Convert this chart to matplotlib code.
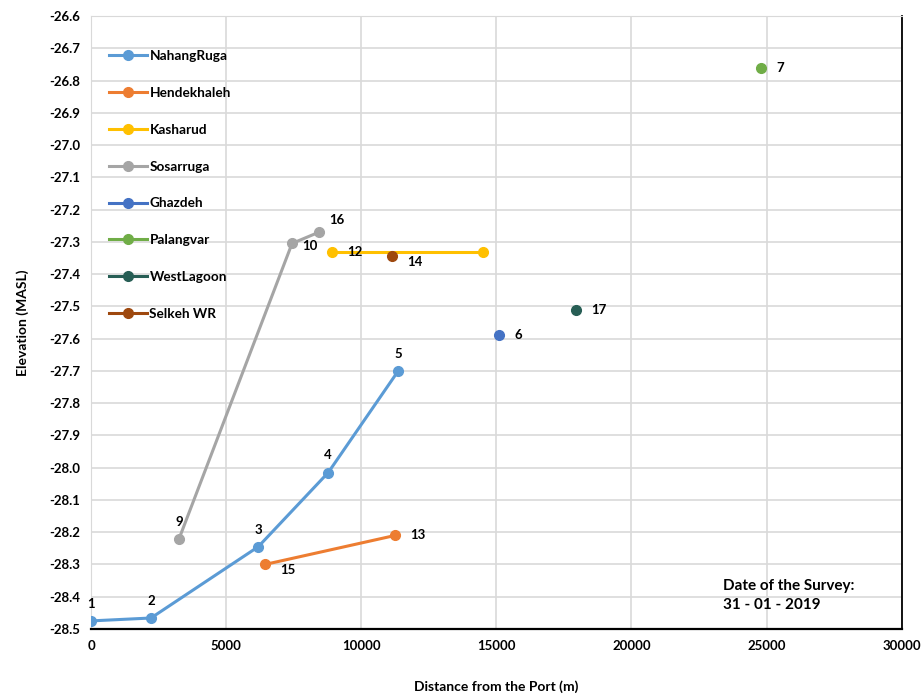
import matplotlib.pyplot as plt

plt.rcParams["font.family"] = ["Lato", "DejaVu Sans"]
plt.rcParams["font.weight"] = "bold"

# distance from port (m), elevation (MASL), point ids
nahang_x = [0, 2220, 6190, 8780, 11370]
nahang_y = [-28.475, -28.466, -28.245, -28.015, -27.70]
nahang_id = ["1", "2", "3", "4", "5"]

hendek_x = [6440, 11260]
hendek_y = [-28.30, -28.21]
hendek_id = ["15", "13"]

kasharud_x = [8930, 14520]
kasharud_y = [-27.33, -27.33]
kasharud_id = ["12", ""]

sosar_x = [3260, 7440, 8440]
sosar_y = [-28.22, -27.305, -27.27]
sosar_id = ["9", "10", "16"]

ghazdeh_x, ghazdeh_y, ghazdeh_id = [15110], [-27.59], ["6"]
palang_x, palang_y, palang_id = [24780], [-26.76], ["7"]
west_x, west_y, west_id = [17960], [-27.51], ["17"]
selkeh_x, selkeh_y, selkeh_id = [11150], [-27.345], ["14"]

series = [
    ("NahangRuga", nahang_x, nahang_y, "#5B9BD5"),
    ("Hendekhaleh", hendek_x, hendek_y, "#ED7D31"),
    ("Kasharud", kasharud_x, kasharud_y, "#FFC000"),
    ("Sosarruga", sosar_x, sosar_y, "#A5A5A5"),
    ("Ghazdeh", ghazdeh_x, ghazdeh_y, "#4472C4"),
    ("Palangvar", palang_x, palang_y, "#70AD47"),
    ("WestLagoon", west_x, west_y, "#275E55"),
    ("Selkeh WR", selkeh_x, selkeh_y, "#9E480E"),
]

fig = plt.figure(figsize=(9.22, 6.95), dpi=100)
ax = fig.add_axes([0.0987, 0.095, 0.8793, 0.882])

for name, xs, ys, c in series:
    ax.plot(xs, ys, "-o", color=c, lw=2.2, ms=7, label=name, zorder=3)

# point labels
above = dict(ha="center", va="bottom")
right = dict(ha="left", va="center")
lab_kw = dict(textcoords="offset points", fontsize=9.5, fontweight="bold")
for x, y, t in zip(nahang_x, nahang_y, nahang_id):
    ax.annotate(t, (x, y), xytext=(0, 8), **above, **lab_kw)
ax.annotate(sosar_id[0], (sosar_x[0], sosar_y[0]), xytext=(0, 8), **above, **lab_kw)
ax.annotate(sosar_id[1], (sosar_x[1], sosar_y[1]), xytext=(7, -2), **right, **lab_kw)
ax.annotate(sosar_id[2], (sosar_x[2], sosar_y[2]), xytext=(7, 9), **right, **lab_kw)
ax.annotate(hendek_id[0], (hendek_x[0], hendek_y[0]), xytext=(11, -4), **right, **lab_kw)
ax.annotate(hendek_id[1], (hendek_x[1], hendek_y[1]), xytext=(11, 0), **right, **lab_kw)
ax.annotate(kasharud_id[0], (kasharud_x[0], kasharud_y[0]), xytext=(11, 0), **right, **lab_kw)
for xs, ys, ids in [(ghazdeh_x, ghazdeh_y, ghazdeh_id), (palang_x, palang_y, palang_id),
                    (west_x, west_y, west_id)]:
    ax.annotate(ids[0], (xs[0], ys[0]), xytext=(11, 0), **right, **lab_kw)
ax.annotate(selkeh_id[0], (selkeh_x[0], selkeh_y[0]), xytext=(11, -4), **right, **lab_kw)

ax.set_xlim(0, 30000)
ax.set_ylim(-28.5, -26.6)
ax.set_xticks(range(0, 30001, 5000))
ax.set_yticks([-28.5 + 0.1 * i for i in range(20)])
ax.yaxis.set_major_formatter(plt.FuncFormatter(lambda v, p: f"{v:.1f}"))
ax.tick_params(labelsize=9.5, length=0, pad=8)
for lbl in ax.get_xticklabels() + ax.get_yticklabels():
    lbl.set_fontweight("bold")
ax.grid(True, color="#D9D9D9", lw=1.2)
ax.set_axisbelow(True)

for s in ["top", "left"]:
    ax.spines[s].set_color("#D9D9D9")
ax.spines["bottom"].set_color("black")
ax.spines["bottom"].set_linewidth(1.6)
ax.spines["right"].set_color("black")
ax.spines["right"].set_linewidth(1.3)

ax.set_xlabel("Distance from the Port (m)", fontsize=10, fontweight="bold", labelpad=20)
ax.set_ylabel("Elevation (MASL)", fontsize=10, fontweight="bold", labelpad=14)

ax.legend(loc="upper left", bbox_to_anchor=(0.015, 0.953), frameon=False,
          labelspacing=1.82, handlelength=2.8, handletextpad=0.2, borderaxespad=0,
          prop={"weight": "bold", "size": 9.8})

ax.text(0.78, 0.055, "Date of the Survey:\n31 - 01 - 2019", transform=ax.transAxes,
        fontsize=11, fontweight="bold", va="center", ha="left", linespacing=1.5)

fig.savefig("out.png", dpi=100)
